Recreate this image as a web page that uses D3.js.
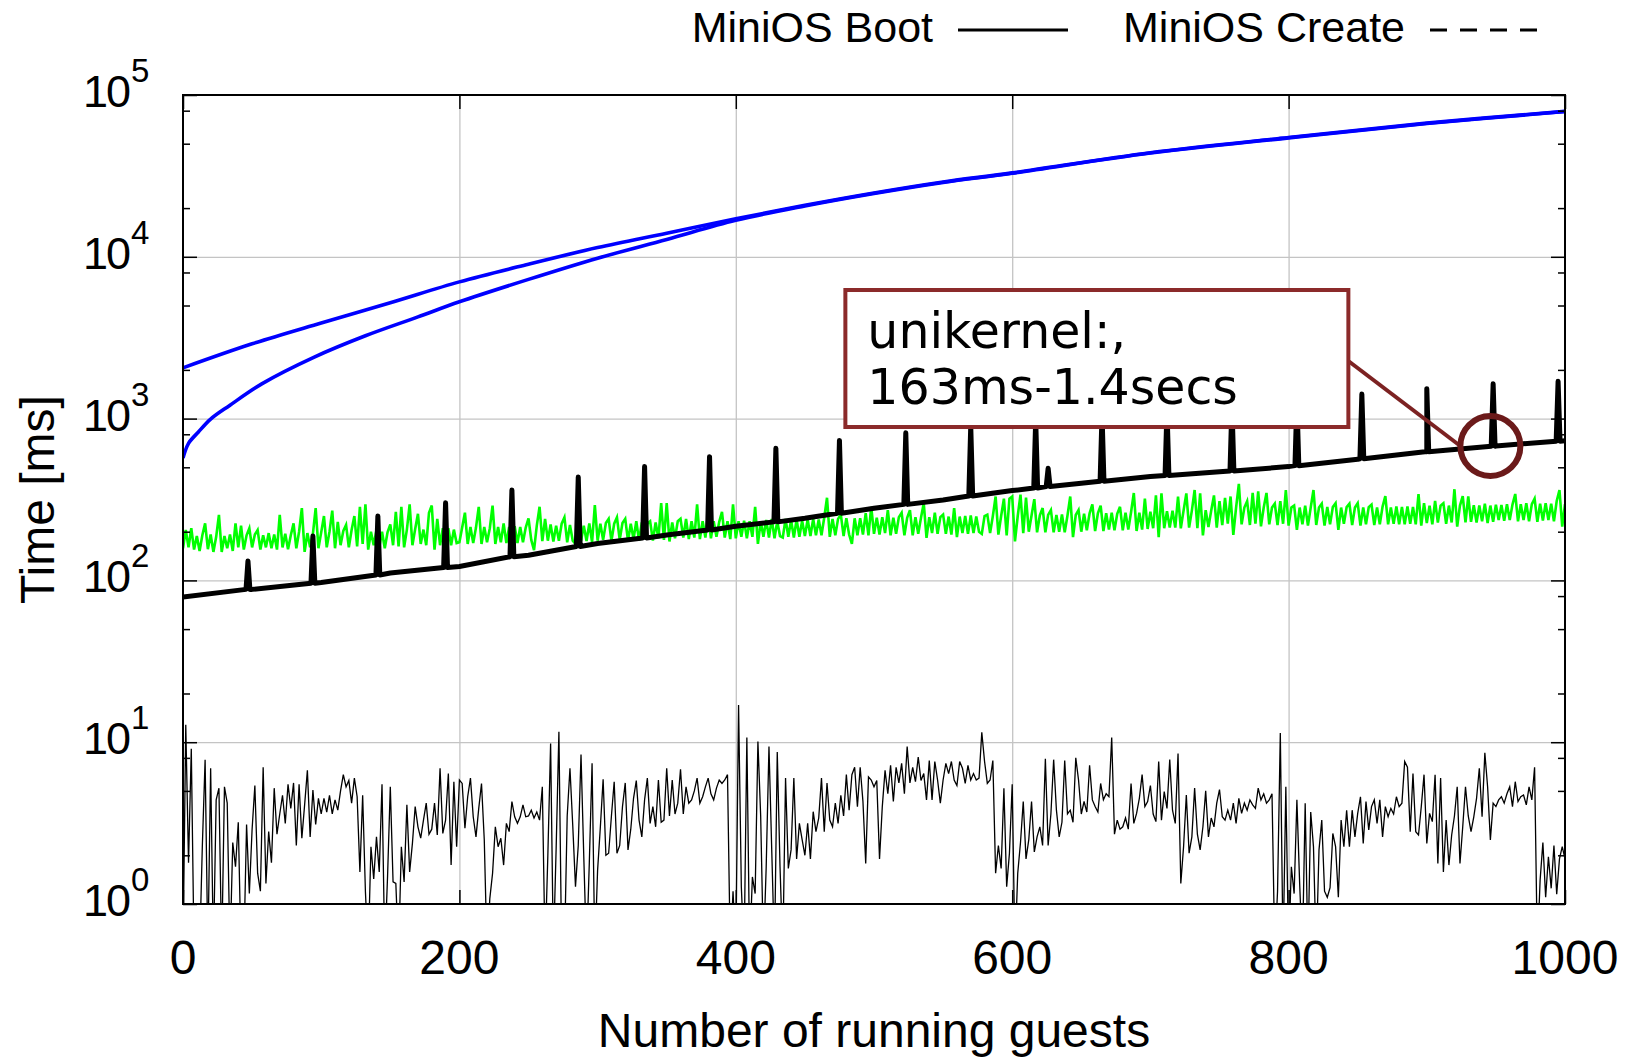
<!DOCTYPE html>
<html>
<head>
<meta charset="utf-8">
<script src="https://cdn.jsdelivr.net/npm/d3@7/dist/d3.min.js"></script>
<style>
  body { margin: 0; padding: 0; background: #fff; }
  svg text { font-family: "Liberation Sans", Arial, Helvetica, sans-serif; fill: #000; }
  .grid line { stroke: #c4c4c4; stroke-width: 1.3px; }
  .grid path { display: none; }
  .ticks line { stroke: #000; stroke-width: 1.5px; }
  .ticks path { display: none; }
</style>
</head>
<body>
<svg id="chart" width="1633" height="1058"></svg>
<script>
// ---- values ----
var xTicks = [0, 200, 400, 600, 800, 1000];
var yTicks = [1, 10, 100, 1000, 10000, 100000];
var yExp = ["0", "1", "2", "3", "4", "5"];
var yMinor = [2, 5, 8, 20, 50, 80, 200, 500, 800, 2000, 5000, 8000, 20000, 50000, 80000];
var legendLabels = ["MiniOS Boot", "MiniOS Create"];
var noteLines = ["unikernel:,", "163ms-1.4secs"];
var noteAt = [946, 677];   // guests, ms (circled point)

// two blue curves
var blueUpperX = [0, 50, 100, 150, 200, 250, 300, 350, 400, 450, 500, 550, 600, 700, 800, 900, 1000];
var blueUpper  = [2060, 2900, 3900, 5200, 7000, 9000, 11400, 14000, 17200, 20800, 24800, 29000, 33000, 44000, 54600, 67000, 79200];
var blueLowerX = [0, 4, 11, 20, 34, 57, 95, 132, 170, 200, 250, 300, 350, 400, 450, 500, 550, 600, 700, 800, 900, 1000];
var blueLower  = [571, 703, 824, 993, 1210, 1640, 2400, 3250, 4250, 5270, 7250, 9800, 12800, 16800, 20600, 24600, 28800, 32800, 43800, 54300, 66700, 79000];

// thick black curve: baseline + periodic spikes
var bootX    = [0, 50, 100, 150, 200, 250, 300, 350, 400, 450, 500, 550, 600, 650, 700, 750, 800, 850, 900, 950, 1000];
var bootBase = [79, 88, 97, 111, 122, 143, 169, 191, 216, 242, 279, 314, 359, 398, 438, 470, 505, 560, 624, 677, 730];
var spikeX    = [47, 94, 141, 190, 238, 286, 334, 381, 429, 475, 523, 570, 617, 626, 665, 712, 759, 806, 853, 900, 948, 995];
var spikeBase = [88, 96, 108, 120, 140, 162, 183, 205, 230, 260, 295, 332, 372, 380, 410, 445, 475, 512, 565, 624, 675, 725];
var spikeTop  = [132, 188, 250, 302, 362, 435, 505, 582, 656, 733, 817, 900, 980, 493, 1060, 1140, 1220, 1300, 1420, 1530, 1640, 1700];

// green and thin black: one value every 2 guests
var sampleStep = 2;
var green = [
  158,205,160,210,155,188,152,190,225,156,192,150,186,254,150,188,158,192,152,225,160,218,155,190,210,
  160,192,205,155,190,160,196,158,192,155,254,160,194,156,190,225,158,200,280,150,196,160,194,280,158,
  198,250,160,200,270,158,230,165,202,220,160,205,250,162,285,168,295,155,200,165,205,160,200,158,198,
  222,165,265,162,285,160,206,295,165,208,258,168,206,165,262,290,155,240,165,210,168,210,165,206,170,
  172,212,262,168,214,170,212,285,168,214,172,210,290,168,214,172,225,170,214,168,216,170,214,172,212,
  242,178,154,218,285,175,240,176,222,174,218,176,224,245,172,220,176,168,222,176,218,175,225,172,292,
  176,224,178,226,240,175,224,245,178,226,240,176,224,180,232,176,228,180,224,232,176,228,182,300,178,
  300,174,228,182,232,240,184,240,180,232,184,295,180,232,184,262,182,232,186,230,265,184,232,180,295,
  182,232,186,234,182,232,186,285,168,232,186,236,184,240,182,232,188,184,240,186,236,184,238,186,234,
  188,238,188,240,190,238,190,245,324,186,240,190,240,255,188,242,192,168,242,190,242,192,260,190,285,
  194,244,192,246,196,272,190,244,194,246,262,190,244,272,190,246,194,244,300,183,246,196,262,194,246,
  255,194,248,192,280,185,248,196,250,194,252,196,248,200,194,250,255,196,250,330,192,250,320,190,320,
  330,174,250,339,196,325,200,252,318,198,252,280,198,254,272,198,254,200,256,198,252,330,185,254,272,
  200,258,204,260,295,202,260,290,202,260,206,262,204,258,285,204,262,206,264,347,202,262,206,320,208,
  266,210,335,185,345,210,268,212,270,212,330,210,270,345,212,270,362,210,345,190,272,214,270,335,212,
  309,220,324,224,330,191,282,395,222,282,309,220,347,224,355,216,282,347,222,282,298,220,309,224,362,
  218,282,290,205,282,222,290,218,282,362,220,282,298,218,284,222,284,300,205,282,224,284,298,220,282,
  300,218,282,222,284,294,220,282,222,286,332,222,282,224,286,222,284,222,286,224,284,222,342,218,300,
  226,290,222,310,228,290,300,224,290,228,366,215,290,332,228,330,230,292,228,290,232,298,226,290,230,
  294,236,292,234,296,236,294,342,232,296,236,300,232,296,320,230,298,234,300,236,298,232,310,362,215,296
];
// values below 1 ms drop out of the plot
var thin = [
  0.5,12.8,1.8,9.1,0.5,0.5,0.5,2.3,7.8,0.5,6.9,0.5,4.4,5.2,0.5,5.3,4.2,0.5,2.4,1.7,3.2,0.5,0.5,3.1,1.16,
  2.9,5.4,1.55,1.2,7.0,1.34,2.8,1.8,5.2,2.7,3.6,4.7,3.15,5.5,3.9,5.6,2.3,5.5,2.55,4.1,6.7,2.6,5.07,3.1,4.5,
  3.6,4.5,3.7,4.7,3.6,4.4,3.8,5.0,6.3,5.3,5.8,4.2,6.0,4.6,1.58,4.7,1.19,0.5,2.26,1.43,2.6,1.58,5.5,0.5,1.47,
  5.3,1.37,1.34,0.5,2.26,1.37,4.1,1.58,2.37,4.0,3.0,2.55,3.3,4.2,2.7,2.9,4.2,2.67,6.9,2.73,3.3,6.4,1.74,5.7,2.26,
  5.84,5.56,2.94,4.6,6.0,3.46,2.6,3.9,5.56,2.49,0.5,1.08,1.55,3.0,2.26,2.55,1.74,3.15,2.8,4.3,3.46,3.15,3.46,4.1,3.46,
  3.5,3.8,3.4,3.7,3.3,5.3,0.5,2.0,9.8,0.5,2.2,11.6,0.5,0.5,3.5,6.9,3.08,1.28,2.3,8.4,1.96,0.5,1.8,7.4,0.5,
  1.62,3.0,5.9,2.0,2.06,3.5,5.7,2.06,2.3,4.0,5.6,2.16,2.9,4.5,5.8,3.3,2.6,4.4,6.0,3.15,4.0,3.0,5.84,3.2,3.3,
  6.9,3.5,5.84,3.6,4.2,6.8,3.6,5.3,4.2,4.4,5.0,6.0,4.2,4.6,5.3,6.0,4.8,4.4,5.2,5.84,5.56,5.84,6.3,0.5,1.2,
  0.5,17,1.28,0.5,10.7,0.5,1.47,1.16,10.1,3.5,0.5,1.7,9.4,2.16,0.5,8.7,1.7,0.5,6.0,1.66,2.16,6.0,1.9,3.15,2.5,
  2.0,3.15,1.9,3.72,2.8,3.4,6.0,2.8,5.6,3.3,3.0,4.2,3.15,4.7,3.5,6.3,3.8,6.3,7.0,4.0,7.0,4.3,1.78,6.1,5.84,
  5.3,5.8,1.9,4.0,6.7,4.8,7.2,4.3,7.0,5.6,7.4,4.8,9.4,5.6,7.0,5.7,8.1,5.8,6.4,4.4,7.7,4.4,7.6,5.84,4.2,
  5.84,7.4,6.4,7.6,5.84,5.4,7.6,6.9,5.56,7.2,5.84,6.4,5.84,6.0,11.5,7.6,5.56,5.84,7.7,1.55,2.3,1.66,5.2,1.28,2.06,
  5.5,0.5,1.55,2.4,4.3,1.9,2.5,4.3,2.1,2.6,3.0,2.3,7.9,2.3,3.6,7.8,3.8,2.6,3.2,7.7,3.6,3.8,3.2,8.0,5.84,
  3.6,4.3,3.7,7.2,4.4,4.0,3.7,5.56,4.4,4.8,4.6,10.7,2.7,3.3,2.9,3.0,3.4,2.9,5.56,3.15,3.63,4.5,6.3,4.0,4.3,
  5.4,3.6,3.23,7.6,3.3,4.95,3.9,7.8,3.8,3.15,8.5,1.34,2.26,4.72,2.06,2.6,5.2,2.7,2.16,3.0,5.0,2.6,3.4,3.0,4.2,
  5.1,3.46,3.3,3.8,3.3,4.2,3.15,4.5,3.63,4.2,3.8,4.4,4.1,3.9,5.2,4.4,4.8,4.2,4.4,4.8,0.5,1.2,11.4,0.5,5.3,
  0.5,1.7,1.16,4.4,1.34,0.5,4.2,0.5,3.7,2.26,0.5,2.16,3.3,1.2,1.1,1.26,2.73,2.26,1.1,3.3,2.26,3.8,2.26,3.8,2.6,
  3.63,4.6,2.37,4.3,2.87,4.0,4.4,3.15,4.4,2.6,4.0,3.46,3.9,3.6,4.6,4.0,4.2,7.6,7.0,2.8,6.4,2.8,2.67,4.0,6.3,
  2.37,3.63,3.23,6.3,1.78,6.0,1.58,3.3,1.74,2.67,3.5,5.3,1.78,3.0,5.3,3.5,2.8,3.46,4.5,6.9,3.46,8.6,5.3,2.49,4.2,
  4.0,4.4,4.6,4.2,4.8,5.3,4.0,5.7,4.3,4.6,4.72,4.1,5.3,4.4,7.0,0.5,1.41,2.4,1.1,1.96,1.25,2.3,1.15,1.9,2.26,1.9
];

// ---- layout ----
var plotLeft = 183, plotRight = 1565, plotTop = 95, plotBottom = 904;
var svg = d3.select("#chart");

var x = d3.scaleLinear().domain([0, 1000]).range([plotLeft, plotRight]);
var y = d3.scaleLog().domain([1, 1e5]).range([plotBottom, plotTop]);

svg.append("defs").append("clipPath").attr("id", "plot")
  .append("rect").attr("x", plotLeft).attr("y", plotTop)
  .attr("width", plotRight - plotLeft).attr("height", plotBottom - plotTop);

// grid
svg.append("g").attr("class", "grid").attr("transform", "translate(0," + plotBottom + ")")
  .call(d3.axisBottom(x).tickValues(xTicks.slice(1, -1)).tickSize(-(plotBottom - plotTop)).tickFormat(""));
svg.append("g").attr("class", "grid").attr("transform", "translate(" + plotLeft + ",0)")
  .call(d3.axisLeft(y).tickValues(yTicks.slice(1, -1)).tickSize(-(plotRight - plotLeft)).tickFormat(""));

var plot = svg.append("g").attr("clip-path", "url(#plot)");

var smooth = d3.line().x(function(d) { return x(d[0]); }).y(function(d) { return y(d[1]); })
  .curve(d3.curveCatmullRom.alpha(0.5));
var straight = d3.line().x(function(d) { return x(d[0]); }).y(function(d) { return y(d[1]); });

function pairs(xs, ys) { return xs.map(function(v, i) { return [v, ys[i]]; }); }
function sampled(ys) { return ys.map(function(v, i) { return [i * sampleStep, v]; }); }

// blue
[pairs(blueUpperX, blueUpper), pairs(blueLowerX, blueLower)].forEach(function(pts) {
  plot.append("path").attr("d", smooth(pts))
    .attr("fill", "none").attr("stroke", "#0000ff").attr("stroke-width", 3.6);
});

// green
plot.append("path").attr("d", straight(sampled(green)))
  .attr("fill", "none").attr("stroke", "#00ff00").attr("stroke-width", 2.6);

// thick black
var bootPts = pairs(bootX, bootBase);
spikeX.forEach(function(sx, i) {
  bootPts.push([sx - 1.4, spikeBase[i]], [sx, spikeTop[i]], [sx + 1.4, spikeBase[i]]);
});
bootPts.sort(function(a, b) { return a[0] - b[0]; });
plot.append("path").attr("d", straight(bootPts))
  .attr("fill", "none").attr("stroke", "#000").attr("stroke-width", 5)
  .attr("stroke-linejoin", "round");

// thin black
plot.append("path").attr("d", straight(sampled(thin)))
  .attr("fill", "none").attr("stroke", "#000").attr("stroke-width", 1.3);

// frame and ticks
svg.append("rect").attr("x", plotLeft).attr("y", plotTop)
  .attr("width", plotRight - plotLeft).attr("height", plotBottom - plotTop)
  .attr("fill", "none").attr("stroke", "#000").attr("stroke-width", 2);

svg.append("g").attr("class", "ticks").attr("transform", "translate(0," + plotBottom + ")")
  .call(d3.axisBottom(x).tickValues(xTicks).tickSize(-14).tickFormat(""));
svg.append("g").attr("class", "ticks").attr("transform", "translate(0," + plotTop + ")")
  .call(d3.axisTop(x).tickValues(xTicks).tickSize(-14).tickFormat(""));
svg.append("g").attr("class", "ticks").attr("transform", "translate(" + plotLeft + ",0)")
  .call(d3.axisLeft(y).tickValues(yTicks).tickSize(-14).tickFormat(""));
svg.append("g").attr("class", "ticks").attr("transform", "translate(" + plotLeft + ",0)")
  .call(d3.axisLeft(y).tickValues(yMinor).tickSize(-7).tickFormat(""));
svg.append("g").attr("class", "ticks").attr("transform", "translate(" + plotRight + ",0)")
  .call(d3.axisRight(y).tickValues(yTicks).tickSize(-14).tickFormat(""));
svg.append("g").attr("class", "ticks").attr("transform", "translate(" + plotRight + ",0)")
  .call(d3.axisRight(y).tickValues(yMinor).tickSize(-7).tickFormat(""));

// tick labels
svg.append("g").selectAll("text").data(xTicks).join("text")
  .attr("x", function(d) { return x(d); }).attr("y", 974)
  .attr("text-anchor", "middle").style("font-size", "48px")
  .text(function(d) { return d; });

var yl = svg.append("g").selectAll("text").data(yTicks).join("text")
  .attr("x", 83).attr("y", function(d) { return y(d) + 12; });
yl.append("tspan").style("font-size", "45px").style("letter-spacing", "-2px").text("10");
yl.append("tspan").style("font-size", "33px").attr("dx", 2).attr("dy", -25)
  .text(function(d, i) { return yExp[i]; });

// axis titles
svg.append("text").attr("x", (plotLeft + plotRight) / 2).attr("y", 1047)
  .attr("text-anchor", "middle").style("font-size", "48px").text("Number of running guests");
svg.append("text").attr("transform", "translate(54," + ((plotTop + plotBottom) / 2) + ") rotate(-90)")
  .attr("text-anchor", "middle").style("font-size", "48px").text("Time [ms]");

// legend
svg.append("text").attr("x", 933).attr("y", 42).attr("text-anchor", "end")
  .style("font-size", "43px").text(legendLabels[0]);
svg.append("line").attr("x1", 958).attr("x2", 1068).attr("y1", 30).attr("y2", 30)
  .attr("stroke", "#000").attr("stroke-width", 3);
svg.append("text").attr("x", 1405).attr("y", 42).attr("text-anchor", "end")
  .style("font-size", "43px").text(legendLabels[1]);
svg.append("line").attr("x1", 1430).attr("x2", 1539).attr("y1", 30).attr("y2", 30)
  .attr("stroke", "#000").attr("stroke-width", 3).attr("stroke-dasharray", "17 13");

// annotation
var cx = x(noteAt[0]), cy = y(noteAt[1]);
var note = svg.append("g");
note.append("line").attr("x1", cx - 142).attr("y1", cy - 85).attr("x2", cx - 30).attr("y2", cy)
  .attr("stroke", "#7c2222").attr("stroke-width", 4);
note.append("rect").attr("x", cx - 645).attr("y", cy - 156).attr("width", 503).attr("height", 137)
  .attr("fill", "#fff").attr("stroke", "#8b2a2a").attr("stroke-width", 4);
note.append("circle").attr("cx", cx).attr("cy", cy).attr("r", 30)
  .attr("fill", "none").attr("stroke", "#6b1a1a").attr("stroke-width", 6);
note.selectAll("text.note").data(noteLines).join("text").attr("class", "note")
  .attr("x", cx - 623).attr("y", function(d, i) { return cy - 98 + i * 56; })
  .style("font-family", "'DejaVu Sans', Verdana, sans-serif").style("font-size", "49px")
  .text(function(d) { return d; });
</script>
</body>
</html>
